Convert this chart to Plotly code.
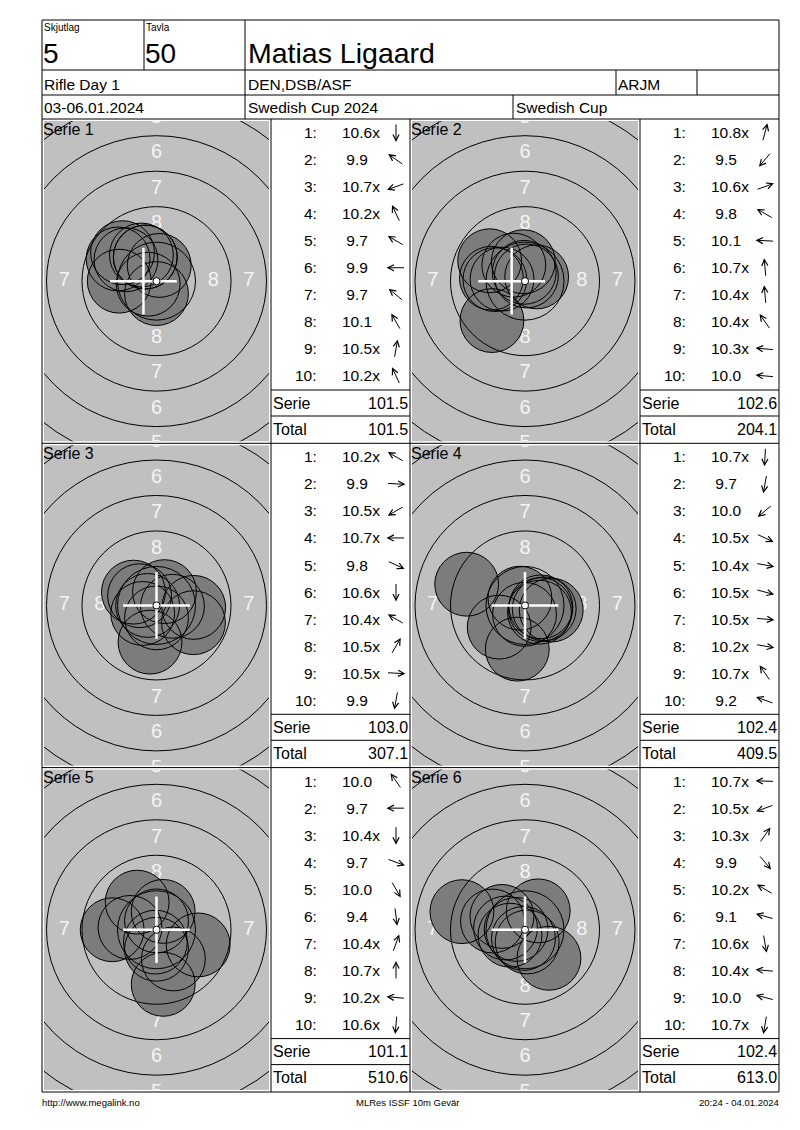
import numpy as np
import plotly.graph_objects as go

# the page has an 8 px body margin, so the figure is drawn 8 px in from the corner
OFF = 8
W, H = 800 - OFF, 1130 - OFF
MM = 14.19            # pixels per millimetre on the target drawings
PELLET_R = 2.25       # 4.5 mm pellet
FONT = "Liberation Sans, Arial, sans-serif"

# header
relay = "5"
lane = "50"
shooter = "Matias Ligaard"
event = "Rifle Day 1"
club = "DEN,DSB/ASF"
shooter_class = "ARJM"
dates = "03-06.01.2024"
competition = "Swedish Cup 2024"
cup = "Swedish Cup"
footer_left = "http://www.megalink.no"
footer_mid = "MLRes ISSF 10m Gevär"
footer_right = "20:24 - 04.01.2024"

# shots: printed score and arrow direction (degrees, 0 = right, 90 = up)
serie1_scores = ["10.6x", "9.9", "10.7x", "10.2x", "9.7", "9.9", "9.7", "10.1", "10.5x", "10.2x"]
serie1_dirs = [-90, 145, 200, 115, 150, 180, 140, 120, 80, 115]
serie2_scores = ["10.8x", "9.5", "10.6x", "9.8", "10.1", "10.7x", "10.4x", "10.4x", "10.3x", "10.0"]
serie2_dirs = [75, 230, 20, 150, 177, 95, 95, 125, 175, 175]
serie3_scores = ["10.2x", "9.9", "10.5x", "10.7x", "9.8", "10.6x", "10.4x", "10.5x", "10.5x", "9.9"]
serie3_dirs = [150, -3, 210, 180, -25, -90, 150, 60, -3, -100]
serie4_scores = ["10.7x", "9.7", "10.0", "10.5x", "10.4x", "10.5x", "10.5x", "10.2x", "10.7x", "9.2"]
serie4_dirs = [-93, -100, 220, -25, -10, -15, -5, -10, 125, 160]
serie5_scores = ["10.0", "9.7", "10.4x", "9.7", "10.0", "9.4", "10.4x", "10.7x", "10.2x", "10.6x"]
serie5_dirs = [125, 180, -90, -20, -60, -83, 70, 90, 175, -95]
serie6_scores = ["10.7x", "10.5x", "10.3x", "9.9", "10.2x", "9.1", "10.6x", "10.4x", "10.0", "10.7x"]
serie6_dirs = [178, 200, 55, -50, 150, 164, -80, 175, 165, -100]

series_scores = [serie1_scores, serie2_scores, serie3_scores, serie4_scores, serie5_scores, serie6_scores]
series_dirs = [serie1_dirs, serie2_dirs, serie3_dirs, serie4_dirs, serie5_dirs, serie6_dirs]

# white cross drawn on each target (mm from centre)
cross_x = [-0.92, -0.94, 0.0, 0.0, 0.0, 0.0]
cross_y = [0.0, 0.0, 0.0, 0.0, 0.0, 0.0]


def fx(x):
    return (x - OFF) / W


def fy(y):
    return 1 - (y - OFF) / H


def ring_r(n):
    return (10 - n) * 2.5 + 0.25


shapes = []
annos = []


def line(x0, y0, x1, y1):
    shapes.append(dict(type="line", xref="paper", yref="paper", x0=fx(x0), y0=fy(y0),
                       x1=fx(x1), y1=fy(y1), line=dict(color="black", width=1), layer="above"))


def text(x, y, s, size=15.5, anchor="left"):
    annos.append(dict(xref="paper", yref="paper", x=fx(x), y=fy(y), text=s, showarrow=False,
                      xanchor=anchor, yanchor="middle", borderpad=0, borderwidth=0,
                      font=dict(size=size, color="black", family=FONT)))


fig = go.Figure()
axes = {}

# header grid
line(42, 20, 779, 20)
line(42, 20, 42, 1092)
line(779, 20, 779, 1092)
line(42, 1092, 779, 1092)
for y in [70, 95, 119]:
    line(42, y, 779, y)
line(144, 20, 144, 70)
line(245, 20, 245, 119)
line(616, 70, 616, 95)
line(697, 70, 697, 95)
line(513, 95, 513, 119)

text(44, 27, "Skjutlag", size=10)
text(146, 27, "Tavla", size=10)
text(43, 53, relay, size=28)
text(145, 53, lane, size=28)
text(248, 53, shooter, size=28.5)
text(44, 84, event)
text(248, 84, club)
text(618, 84, shooter_class)
text(44, 107, dates)
text(248, 107, competition)
text(516, 107, cup)

text(42, 1102, footer_left, size=9.5)
text(407, 1102, footer_mid, size=9.5, anchor="center")
text(779, 1102, footer_right, size=9.5, anchor="right")

cols = [(42, 271, 410), (410, 640, 779)]
top0, row_h = 119, 324.3
for r in range(1, 3):
    line(42, top0 + r * row_h, 779, top0 + r * row_h)
for x in [271, 410, 640]:
    line(x, top0, x, 1092)

running = 0.0
L = 19
for i in range(6):
    r, c = divmod(i, 2)
    tl, tr, tbr = cols[c]
    top = top0 + r * row_h
    bot = top + row_h
    k = i + 1
    xa = "x" if k == 1 else f"x{k}"
    ya = "y" if k == 1 else f"y{k}"
    gx0, gx1, gy0, gy1 = tl + 2, tr - 2, top + 2, bot - 2
    hw = (gx1 - gx0) / 2 / MM
    hh = (gy1 - gy0) / 2 / MM
    suffix = "" if k == 1 else str(k)
    axes["xaxis" + suffix] = dict(domain=[fx(gx0), fx(gx1)], range=[-hw, hw], visible=False,
                                  anchor=ya, fixedrange=True, showgrid=False, zeroline=False)
    axes["yaxis" + suffix] = dict(domain=[fy(gy1), fy(gy0)], range=[-hh, hh], visible=False,
                                  anchor=xa, fixedrange=True, showgrid=False, zeroline=False)

    scores = series_scores[i]
    dirs = series_dirs[i]
    vals = [float(s.rstrip("x")) for s in scores]
    dist = [(10.95 - v) * 2.5 for v in vals]
    sx = [d * np.cos(np.radians(a)) for d, a in zip(dist, dirs)]
    sy = [d * np.sin(np.radians(a)) for d, a in zip(dist, dirs)]

    # ring numbers sit under the shot holes
    lab_x, lab_y, lab_t = [], [], []
    for n in range(1, 9):
        rr = (ring_r(n) + ring_r(n + 1)) / 2
        for ux, uy in [(0, 1), (0, -1), (1, 0), (-1, 0)]:
            lab_x.append(rr * ux)
            lab_y.append(rr * uy)
            lab_t.append(str(n))
    fig.add_trace(go.Scatter(x=lab_x, y=lab_y, text=lab_t, mode="text", xaxis=xa, yaxis=ya,
                             textfont=dict(size=20, color="#f4f4f4", family=FONT),
                             hoverinfo="skip", showlegend=False, cliponaxis=True))

    # shot holes: fills first, then all outlines
    for x, y in zip(sx, sy):
        shapes.append(dict(type="circle", xref=xa, yref=ya, x0=x - PELLET_R, x1=x + PELLET_R,
                           y0=y - PELLET_R, y1=y + PELLET_R, fillcolor="#7c7c7c",
                           line=dict(width=0), layer="above"))
    for x, y in zip(sx, sy):
        shapes.append(dict(type="circle", xref=xa, yref=ya, x0=x - PELLET_R, x1=x + PELLET_R,
                           y0=y - PELLET_R, y1=y + PELLET_R, fillcolor="rgba(0,0,0,0)",
                           line=dict(width=1, color="black"), layer="above"))
    # ring lines over the holes
    for n in range(1, 10):
        rr = ring_r(n)
        shapes.append(dict(type="circle", xref=xa, yref=ya, x0=-rr, x1=rr, y0=-rr, y1=rr,
                           line=dict(width=1, color="black"), layer="above"))
    # cross and 10-ring dot
    cl = 2.35
    for x0, y0, x1, y1 in [(cross_x[i] - cl, cross_y[i], cross_x[i] + cl, cross_y[i]),
                           (cross_x[i], cross_y[i] - cl, cross_x[i], cross_y[i] + cl)]:
        shapes.append(dict(type="line", xref=xa, yref=ya, x0=x0, y0=y0, x1=x1, y1=y1,
                           line=dict(color="white", width=2.5), layer="above"))
    r10 = ring_r(10)
    shapes.append(dict(type="circle", xref=xa, yref=ya, x0=-r10, x1=r10, y0=-r10, y1=r10,
                       fillcolor="white", line=dict(width=1, color="black"), layer="above"))

    text(tl + 1, top + 10, f"Serie {k}", size=16)

    # score table
    for j, (s, a) in enumerate(zip(scores, dirs)):
        cy = top + 13.5 + 27.05 * j
        text(tr + 46, cy, f"{j + 1}:", anchor="right")
        text(tr + 71, cy, s if vals[j] >= 10 else "\u00a0" + s)
        ux, uy = np.cos(np.radians(a)), np.sin(np.radians(a))
        cx = tr + 125
        annos.append(dict(xref="paper", yref="paper", x=fx(cx + L / 2 * ux), y=fy(cy - L / 2 * uy),
                          ax=-L * ux, ay=L * uy, text="", showarrow=True, arrowhead=5,
                          arrowsize=1.2, arrowwidth=1, arrowcolor="black", standoff=0))
    serie_sum = sum(vals)
    running += serie_sum
    line(tr, top + 271, tbr, top + 271)
    line(tr, top + 297, tbr, top + 297)
    text(tr + 2, top + 284, "Serie", size=16)
    text(tbr - 2, top + 284, f"{serie_sum:.1f}", size=16, anchor="right")
    text(tr + 2, top + 310, "Total", size=16)
    text(tbr - 2, top + 310, f"{running:.1f}", size=16, anchor="right")

fig.update_layout(width=W, height=H, margin=dict(l=0, r=0, t=0, b=0), autosize=False,
                  paper_bgcolor="white", plot_bgcolor="#c0c0c0", showlegend=False,
                  font=dict(family=FONT), shapes=shapes, annotations=annos, **axes)
fig.write_html("out.html")
